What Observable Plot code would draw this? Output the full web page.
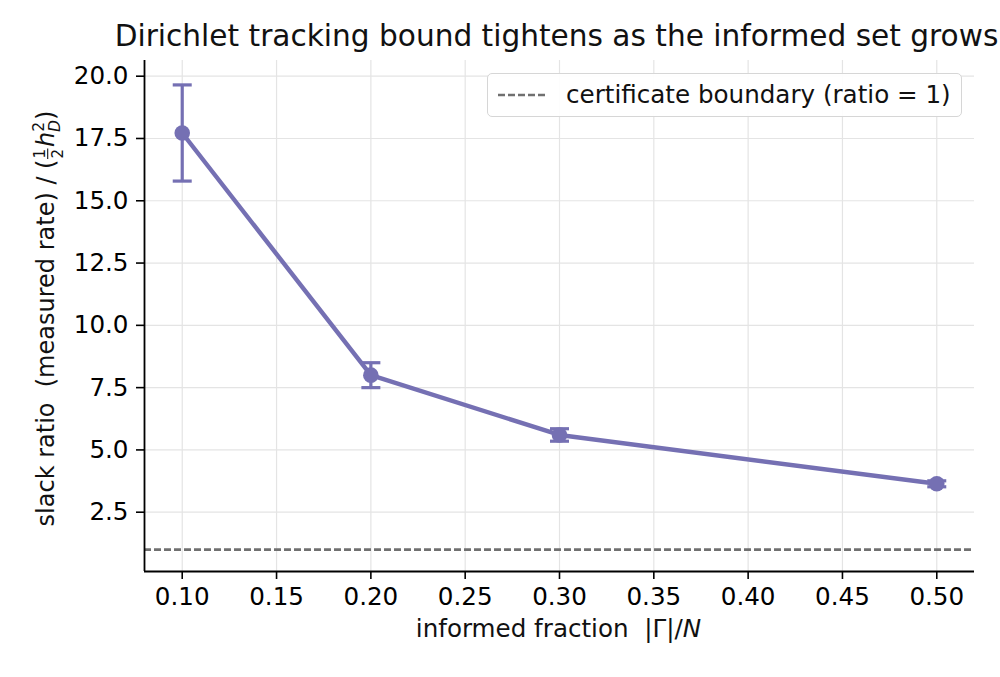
<!DOCTYPE html>
<html>
<head>
<meta charset="utf-8">
<script src="https://cdn.jsdelivr.net/npm/d3@7"></script>
<script src="https://cdn.jsdelivr.net/npm/@observablehq/plot@0.6"></script>
<style>
  html, body { margin: 0; padding: 0; background: #fff; }
  body { width: 1000px; height: 677px; overflow: hidden; font-family: "DejaVu Sans", sans-serif; }
  #wrap { position: relative; width: 1000px; height: 677px; }
  #title { position: absolute; left: 556.5px; top: 22px; transform: translateX(-50%);
           font-size: 29.6px; line-height: 29.5px; color: #111; white-space: nowrap; }
  #chart { position: absolute; left: 0; top: 0; }
  #legend { position: absolute; left: 487px; top: 73px; width: 473px; height: 42px;
            border: 1.5px solid #d6d6d6; border-radius: 5px; background: rgba(255,255,255,0.92);
            box-sizing: content-box; }
  #legend svg { position: absolute; left: 0; top: 0; }
  #legend span { position: absolute; left: 78px; top: 7px; font-size: 24.6px; line-height: 28px; color: #111; white-space: nowrap; }
</style>
</head>
<body>
<div id="wrap">
  <div id="chart"></div>
  <div id="title">Dirichlet tracking bound tightens as the informed set grows</div>
  <div id="legend">
    <svg width="80" height="42"><line x1="10" x2="59" y1="21" y2="21" stroke="#707070" stroke-width="2.6" stroke-dasharray="7,3"></line></svg>
    <span>certificate boundary (ratio = 1)</span>
  </div>
</div>
<script>
// ---- data ----
const fractions = [0.10, 0.20, 0.30, 0.50];
const ratios    = [17.72, 8.00, 5.60, 3.64];
const errors    = [1.93, 0.50, 0.25, 0.12];
const boundary  = 1;
const xTicks = [0.10, 0.15, 0.20, 0.25, 0.30, 0.35, 0.40, 0.45, 0.50];
const yTicks = [2.5, 5.0, 7.5, 10.0, 12.5, 15.0, 17.5, 20.0];
const xDomain = [0.08, 0.52];
const yDomain = [0.12, 20.63];

const purple = "#7570b3";
const rows = fractions.map((f, i) => ({f, r: ratios[i], lo: ratios[i] - errors[i], hi: ratios[i] + errors[i]}));

// horizontal cap symbol
const capSymbol = { draw(ctx) { ctx.moveTo(-9.5, 0); ctx.lineTo(9.5, 0); } };

const FS = 24.6;
const chart = Plot.plot({
  width: 1000,
  height: 677,
  marginTop: 60,
  marginBottom: 106,
  marginLeft: 144,
  marginRight: 26,
  style: { fontFamily: "DejaVu Sans", fontSize: FS + "px", color: "black", background: "transparent" },
  x: { domain: xDomain, label: null },
  y: { domain: yDomain, label: null },
  marks: [
    Plot.gridX(xTicks, { stroke: "#e4e4e4", strokeOpacity: 1, strokeWidth: 1.2 }),
    Plot.gridY(yTicks, { stroke: "#e4e4e4", strokeOpacity: 1, strokeWidth: 1.2 }),
    Plot.ruleY([boundary], { stroke: "#707070", strokeWidth: 2.6, strokeDasharray: "7,3" }),
    Plot.ruleX(rows, { x: "f", y1: "lo", y2: "hi", stroke: purple, strokeWidth: 3.2 }),
    Plot.dot(rows, { x: "f", y: "lo", symbol: capSymbol, stroke: purple, strokeWidth: 3.2, fill: "none" }),
    Plot.dot(rows, { x: "f", y: "hi", symbol: capSymbol, stroke: purple, strokeWidth: 3.2, fill: "none" }),
    Plot.line(rows, { x: "f", y: "r", stroke: purple, strokeWidth: 4.4 }),
    Plot.dot(rows, { x: "f", y: "r", r: 7.8, fill: purple, stroke: "none" }),
    Plot.ruleX([xDomain[0]], { stroke: "black", strokeWidth: 1.8 }),
    Plot.ruleY([yDomain[0]], { stroke: "black", strokeWidth: 1.8 }),
    Plot.axisX({ ticks: xTicks, tickFormat: d3.format(".2f"), tickSize: 8, tickPadding: 8, strokeWidth: 1.6, label: null }),
    Plot.axisY({ ticks: yTicks, tickFormat: d3.format(".1f"), tickSize: 8, tickPadding: 8, strokeWidth: 1.6, label: null })
  ]
});
document.getElementById("chart").appendChild(chart);

// axis labels with math-style parts
const svg = d3.select(chart);
const xl = svg.append("text")
  .attr("x", 558.5).attr("y", 637)
  .attr("text-anchor", "middle")
  .attr("font-size", FS + "px").attr("fill", "#111");
xl.append("tspan").text("informed fraction  |Γ|/");
xl.append("tspan").attr("font-style", "italic").text("N");

const lead = "slack ratio  (measured rate) / (";
const g = svg.append("g").attr("transform", "translate(54,318.5) rotate(-90)");
const yl = g.append("text")
  .attr("text-anchor", "middle")
  .attr("font-size", "24px").attr("fill", "#111");
yl.append("tspan").text(lead);
yl.append("tspan").attr("font-size", "15px").attr("dx", "1").attr("dy", "-9").text("1");
yl.append("tspan").attr("font-size", "15px").attr("dx", "-9.54").attr("dy", "17.5").text("2");
yl.append("tspan").attr("font-style", "italic").attr("dx", "2").attr("dy", "-8.5").text("h");
yl.append("tspan").attr("font-size", "15.5px").attr("dy", "-10").text("2");
yl.append("tspan").attr("font-size", "15.5px").attr("font-style", "italic").attr("dx", "-10").attr("dy", "16").text("D");
yl.append("tspan").attr("dy", "-6").text(")");
// fraction bar
try {
  const node = yl.node();
  const p = node.getStartPositionOfChar(lead.length);
  const e = node.getEndPositionOfChar(lead.length);
  g.append("line").attr("x1", p.x - 0.5).attr("x2", e.x + 0.5)
    .attr("y1", -6.3).attr("y2", -6.3).attr("stroke", "#111").attr("stroke-width", 1.1);
} catch (err) {}
</script>
</body>
</html>
